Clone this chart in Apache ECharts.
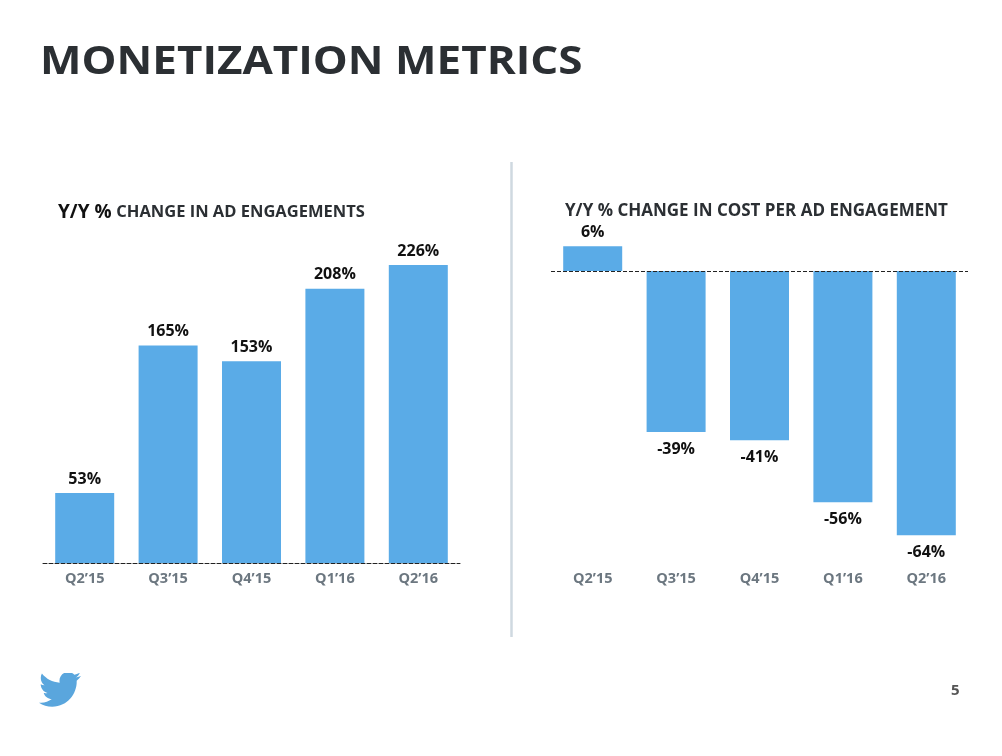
<!DOCTYPE html>
<html>
<head>
<meta charset="utf-8">
<script src="https://cdn.jsdelivr.net/npm/echarts@6/dist/echarts.min.js"></script>
<style>
  html, body { margin: 0; padding: 0; background: #fff; }
  #main { width: 1002px; height: 756px; }
</style>
</head>
<body>
<div id="main"></div>
<script>
// 数据
const categories = ['Q2’15', 'Q3’15', 'Q4’15', 'Q1’16', 'Q2’16'];
const adEngagements = [53, 165, 153, 208, 226];
const costPerEngagement = [6, -39, -41, -56, -64];

const pageTitle = 'MONETIZATION METRICS';
const leftTitleLead = 'Y/Y %';
const leftTitleRest = 'CHANGE IN AD ENGAGEMENTS';
const rightTitle = 'Y/Y % CHANGE IN COST PER AD ENGAGEMENT';

(function () {
    let myChart = echarts.init(document.getElementById('main'));

    const barColor = '#5aabe7';
    const font = '"Open Sans", "DejaVu Sans", sans-serif';
    const valueLabel = {
        show: true,
        formatter: '{c}%',
        color: '#111',
        fontFamily: font,
        fontWeight: 'bold',
        fontSize: 16
    };
    const catLabel = {
        color: '#6c7780',
        fontFamily: font,
        fontWeight: 'bold',
        fontSize: 14.5,
        margin: 8
    };

    // twitter 小鸟 (svg 图片)
    const birdSvg = '<svg xmlns="http://www.w3.org/2000/svg" viewBox="0 60 512 420"><path fill="#5aa6dd" d="M459.37 151.716c.325 4.548.325 9.097.325 13.645 0 138.72-105.583 298.558-298.558 298.558-59.452 0-114.68-17.219-161.137-47.106 8.447.974 16.568 1.299 25.34 1.299 49.055 0 94.213-16.568 130.274-44.832-46.132-.975-84.792-31.188-98.112-72.772 6.498.974 12.995 1.624 19.818 1.624 9.421 0 18.843-1.3 27.614-3.573-48.081-9.747-84.143-51.98-84.143-102.985v-1.299c13.969 7.797 30.214 12.67 47.431 13.319-28.264-18.843-46.781-51.005-46.781-87.391 0-19.492 5.197-37.36 14.294-52.954 51.655 63.675 129.3 105.258 216.365 109.807-1.624-7.797-2.599-15.918-2.599-24.04 0-57.828 46.782-104.934 104.934-104.934 30.213 0 57.502 12.67 76.67 33.137 23.715-4.548 46.456-13.32 66.599-25.34-7.798 24.366-24.366 44.833-46.132 57.827 21.117-2.273 41.584-8.122 60.426-16.243-14.292 20.791-32.161 39.308-52.628 54.253z"/></svg>';
    const birdUrl = 'data:image/svg+xml;charset=utf-8,' + encodeURIComponent(birdSvg);

    let option = {
        animation: false,
        textStyle: { fontFamily: font },
        title: [
            {
                text: '{a|' + leftTitleLead + '} {b|' + leftTitleRest + '}',
                left: 53,
                top: 198,
                textStyle: {
                    rich: {
                        a: { fontSize: 19, fontWeight: 'bold', color: '#111', fontFamily: font },
                        b: { fontSize: 16.5, fontWeight: 'bold', color: '#2b2f33', fontFamily: font }
                    }
                }
            },
            {
                text: rightTitle,
                left: 560,
                top: 198,
                textStyle: { fontSize: 17, fontWeight: 'bold', color: '#2b2f33', fontFamily: font }
            }
        ],
        graphic: [
            {
                type: 'text',
                x: 40,
                y: 43,
                scaleX: 1.1,
                style: {
                    text: pageTitle,
                    fontSize: 40,
                    fontWeight: 'bold',
                    fill: '#2b2f33',
                    fontFamily: font
                }
            },
            {
                type: 'line',
                shape: { x1: 511.5, y1: 162, x2: 511.5, y2: 637 },
                style: { stroke: '#cfd9e0', lineWidth: 2.5 }
            },
            {
                type: 'image',
                left: 39,
                top: 673,
                style: { image: birdUrl, width: 42, height: 35 }
            },
            {
                type: 'text',
                left: 951,
                top: 683,
                style: { text: '5', fontSize: 15, fontWeight: 'bold', fill: '#555', fontFamily: font }
            }
        ],
        grid: [
            { left: 43, width: 417, top: 230, height: 333 },
            { left: 551, width: 417, top: 230, height: 333 }
        ],
        xAxis: [
            {
                gridIndex: 0,
                type: 'category',
                data: categories,
                axisTick: { show: false },
                axisLine: { lineStyle: { color: '#222', type: [4, 2], width: 1 } },
                axisLabel: catLabel
            },
            {
                gridIndex: 1,
                type: 'category',
                data: categories,
                axisTick: { show: false },
                axisLine: { show: false, onZero: false },
                axisLabel: catLabel
            }
        ],
        yAxis: [
            { gridIndex: 0, type: 'value', min: 0, max: 252.5, show: false },
            { gridIndex: 1, type: 'value', min: -70.7, max: 9.93, show: false }
        ],
        series: [
            {
                type: 'bar',
                xAxisIndex: 0,
                yAxisIndex: 0,
                barWidth: 59,
                itemStyle: { color: barColor },
                label: Object.assign({ position: 'top', distance: 6 }, valueLabel),
                data: adEngagements
            },
            {
                type: 'bar',
                xAxisIndex: 1,
                yAxisIndex: 1,
                barWidth: 59,
                itemStyle: { color: barColor },
                label: valueLabel,
                data: costPerEngagement.map(function (v) {
                    return {
                        value: v,
                        label: { position: v < 0 ? 'bottom' : 'top', distance: v < 0 ? 9 : 6 }
                    };
                }),
                markLine: {
                    silent: true,
                    symbol: 'none',
                    label: { show: false },
                    lineStyle: { color: '#222', type: [4, 2], width: 1 },
                    data: [{ yAxis: 0 }]
                }
            }
        ]
    };

    myChart.setOption(option);
})();
</script>
</body>
</html>
